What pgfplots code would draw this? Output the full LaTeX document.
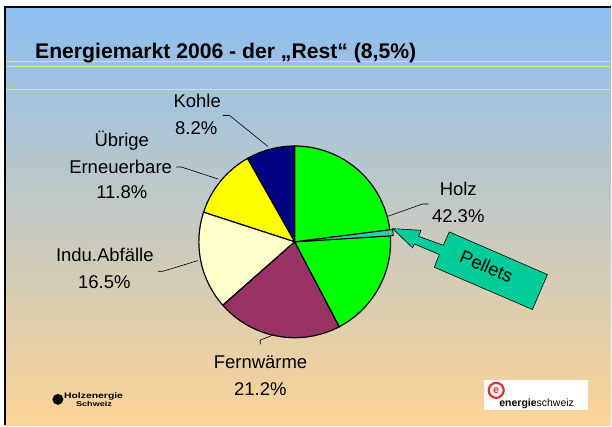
\documentclass[border=0pt]{standalone}
\usepackage{pgfplots}
\pgfplotsset{compat=1.18}
\usepackage{fontspec}
\setmainfont{Liberation Sans}
\definecolor{bgtop}{RGB}{139,190,240}
\definecolor{bgbot}{RGB}{252,212,150}
\definecolor{hline}{RGB}{214,232,150}
\definecolor{cgreen}{RGB}{0,255,0}
\definecolor{cnavy}{RGB}{0,0,128}
\definecolor{cyellow}{RGB}{255,255,0}
\definecolor{clyellow}{RGB}{255,255,204}
\definecolor{cmaroon}{RGB}{153,51,102}
\definecolor{cpellet}{RGB}{51,204,170}
\definecolor{carrow}{RGB}{0,204,153}
\definecolor{cred}{RGB}{225,50,40}
\newcommand{\lab}{\fontsize{18.5}{22}\selectfont}
\begin{document}
\begin{tikzpicture}[x=1pt,y=1pt]
% background
\fill[white] (0,0) rectangle (612,426);
\shade[top color=bgtop, bottom color=bgbot] (5,0) rectangle (612,419);
\draw[line width=2pt,black] (4,419) -- (612,419);
\draw[line width=2pt,black] (5,0) -- (5,420);
\draw[hline,line width=0.8pt] (6,364) -- (612,364);
\draw[hline,line width=0.8pt] (6,359) -- (612,359);
\draw[hline,line width=0.8pt] (6,336) -- (612,336);
% title
\node[anchor=base west,inner sep=0pt] at (35,367.7) {\fontsize{21.2}{25}\selectfont\bfseries Energiemarkt 2006 - der „Rest“ (8,5\%)};
% pie
\begin{axis}[at={(207.5,91.4)},anchor=south west,scale only axis,width=192pt,height=192pt,
  xmin=-1,xmax=1,ymin=-1,ymax=1,hide axis,clip=false]
% cumulative percentages: Kohle 8.2, Uebrige 11.8, Indu 16.5, Fernwaerme 21.2, Holz 42.3 (incl. Pellets 1.0)
\addplot[fill=cnavy,draw=black,line width=1.2pt,domain={90+3.6*0}:{90+3.6*8.2},samples=30,variable=\t] ({cos(\t)},{sin(\t)}) -- (axis cs:0,0) -- cycle;
\addplot[fill=cyellow,draw=black,line width=1.2pt,domain={90+3.6*8.2}:{90+3.6*20.0},samples=30,variable=\t] ({cos(\t)},{sin(\t)}) -- (axis cs:0,0) -- cycle;
\addplot[fill=clyellow,draw=black,line width=1.2pt,domain={90+3.6*20.0}:{90+3.6*36.5},samples=30,variable=\t] ({cos(\t)},{sin(\t)}) -- (axis cs:0,0) -- cycle;
\addplot[fill=cmaroon,draw=black,line width=1.2pt,domain={90+3.6*36.5}:{90+3.6*57.7},samples=40,variable=\t] ({cos(\t)},{sin(\t)}) -- (axis cs:0,0) -- cycle;
\addplot[fill=cgreen,draw=black,line width=1.2pt,domain={90+3.6*57.7}:{90+3.6*76.0},samples=40,variable=\t] ({cos(\t)},{sin(\t)}) -- (axis cs:0,0) -- cycle;
\addplot[fill=cgreen,draw=black,line width=1.2pt,domain={90+3.6*77.0}:{90+3.6*100},samples=40,variable=\t] ({cos(\t)},{sin(\t)}) -- (axis cs:0,0) -- cycle;
\addplot[fill=cpellet,draw=black,line width=0.8pt,domain={90+3.6*76.0}:{90+3.6*77.0},samples=5,variable=\t] ({0.03*cos(5.4)+cos(\t)},{0.03*sin(5.4)+sin(\t)}) -- (axis cs:0.03,0.003) -- cycle;
\end{axis}
% leader lines
\draw[black,line width=0.6pt] (223.3,310.3) -- (230,310.3) -- (268.3,279.3);
\draw[black,line width=0.6pt] (176.7,258.7) -- (181.7,258.7) -- (218.3,246.7);
\draw[black,line width=0.6pt] (158.3,154.3) -- (163.3,154.3) -- (198.3,165);
\draw[black,line width=0.6pt] (260.7,81) -- (260.7,85.3) -- (275,91);
\draw[black,line width=0.6pt] (429.3,221.7) -- (423.3,221.7) -- (388.3,209.3);
% labels
\node[anchor=base,inner sep=0pt] at (197.5,318.5) {\lab Kohle};
\node[anchor=base,inner sep=0pt] at (196.5,291) {\lab 8.2\%};
\node[anchor=base,inner sep=0pt] at (122,279.3) {\lab Übrige};
\node[anchor=base,inner sep=0pt] at (120.8,252.7) {\lab Erneuerbare};
\node[anchor=base,inner sep=0pt] at (122,226.7) {\lab 11.8\%};
\node[anchor=base,inner sep=0pt] at (105,163.7) {\lab Indu.Abfälle};
\node[anchor=base,inner sep=0pt] at (104.5,137) {\lab 16.5\%};
\node[anchor=base,inner sep=0pt] at (261,56.7) {\lab Fernwärme};
\node[anchor=base,inner sep=0pt] at (260.7,30) {\lab 21.2\%};
\node[anchor=base,inner sep=0pt] at (459,230) {\lab Holz};
\node[anchor=base,inner sep=0pt] at (459,202.7) {\lab 42.3\%};
% Pellets arrow
\filldraw[fill=carrow,draw=black,line width=0.6pt] (393.3,197) -- (421.7,195.3) -- (419.3,189.3) -- (444,180.3) -- (450,193.7) -- (548.3,151) -- (533.3,116) -- (435,158.3) -- (440,171) -- (415,181.7) -- (413.3,177.7) -- cycle;
\node[rotate=-23.5,inner sep=0pt] at (487.3,159.3) {\lab Pellets};
% logos
\fill[white] (485,15.3) rectangle (589,45.3);
\draw[cred,line width=2.2pt] (497,35) circle (7.5);
\node[anchor=center,inner sep=0pt,text=cred] at (497,35) {\fontsize{11}{12}\selectfont\bfseries e};
\node[anchor=base west,inner sep=0pt] at (500,19) {\fontsize{10.5}{12}\selectfont\bfseries energie\mdseries schweiz};
\fill[black] (58,26) circle (5.5);
\node[anchor=base west,inner sep=0pt,xscale=1.3] at (64,26.5) {\fontsize{8}{9}\selectfont\bfseries Holzenergie};
\node[anchor=base west,inner sep=0pt,xscale=1.3] at (76,18.5) {\fontsize{7}{8}\selectfont\bfseries Schweiz};
\end{tikzpicture}
\end{document}
